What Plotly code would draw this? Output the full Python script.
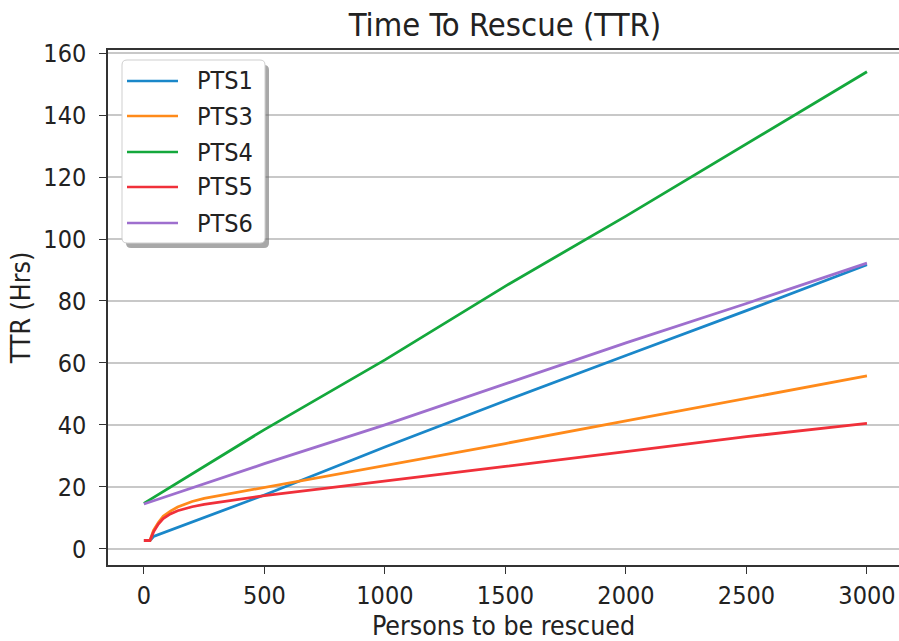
import plotly.graph_objects as go

# ---- data ----
x_pts1 = [0, 25, 40, 500, 1000, 1500, 2000, 2500, 3000]
y_pts1 = [2.7, 2.7, 4.0, 17.4, 32.9, 47.8, 62.4, 76.9, 91.7]

x_pts3 = [0, 25, 40, 60, 80, 110, 140, 170, 200, 250, 300, 400, 500, 750, 1000, 1500, 2000, 2500, 3000]
y_pts3 = [2.7, 2.7, 6.0, 8.5, 10.5, 12.2, 13.5, 14.5, 15.3, 16.3, 17.0, 18.6, 20.0, 23.3, 26.8, 34.0, 41.3, 48.6, 55.8]

x_pts4 = [0, 500, 1000, 1500, 2000, 2500, 3000]
y_pts4 = [14.7, 38.5, 61.0, 84.8, 107.4, 130.6, 154.0]

x_pts5 = [0, 25, 40, 60, 80, 110, 140, 170, 200, 250, 300, 400, 500, 750, 1000, 1500, 2000, 2500, 3000]
y_pts5 = [2.7, 2.7, 5.5, 8.0, 9.8, 11.3, 12.3, 13.0, 13.6, 14.4, 15.0, 16.2, 17.2, 19.5, 21.8, 26.6, 31.4, 36.2, 40.5]

x_pts6 = [0, 500, 1000, 1500, 2000, 2500, 3000]
y_pts6 = [14.5, 27.5, 40.0, 53.3, 66.5, 79.2, 92.2]

names = ["PTS1", "PTS3", "PTS4", "PTS5", "PTS6"]
colors = ["#1a87c9", "#ff8a1a", "#14a83c", "#f0303a", "#9e6fce"]
series = [(x_pts1, y_pts1), (x_pts3, y_pts3), (x_pts4, y_pts4), (x_pts5, y_pts5), (x_pts6, y_pts6)]

x_ticks = [0, 500, 1000, 1500, 2000, 2500, 3000]
y_ticks = [0, 20, 40, 60, 80, 100, 120, 140, 160]

FONT = "DejaVu Sans Condensed, DejaVu Sans, sans-serif"
TXT = "#222"

W, H = 899, 641
L, R, T, B = 108, 0, 50, 76
PW, PH = W - L - R, H - T - B


def px_x(p):
    return (p - L) / PW


def px_y(p):
    return (H - B - p) / PH


def rounded_rect(x0, y0, x1, y1, r):
    # pixel coords (y down) -> paper path with rounded corners
    X = lambda p: px_x(p)
    Y = lambda p: px_y(p)
    return (f"M {X(x0 + r)},{Y(y0)} L {X(x1 - r)},{Y(y0)} Q {X(x1)},{Y(y0)} {X(x1)},{Y(y0 + r)} "
            f"L {X(x1)},{Y(y1 - r)} Q {X(x1)},{Y(y1)} {X(x1 - r)},{Y(y1)} "
            f"L {X(x0 + r)},{Y(y1)} Q {X(x0)},{Y(y1)} {X(x0)},{Y(y1 - r)} "
            f"L {X(x0)},{Y(y0 + r)} Q {X(x0)},{Y(y0)} {X(x0 + r)},{Y(y0)} Z")


fig = go.Figure()
for (xs, ys), n, c in zip(series, names, colors):
    fig.add_trace(go.Scatter(x=xs, y=ys, mode="lines", name=n,
                             line=dict(color=c, width=2.8), showlegend=False))

# ---- manual legend (box, shadow, samples, labels) ----
bx0, by0, bx1, by1 = 122, 60, 265, 243
shapes = [
    dict(type="path", xref="paper", yref="paper", path=rounded_rect(bx0 + 4, by0 + 5, bx1 + 4, by1 + 5, 5),
         fillcolor="rgba(110,110,110,0.6)", line=dict(width=0), layer="above"),
    dict(type="path", xref="paper", yref="paper", path=rounded_rect(bx0, by0, bx1, by1, 5),
         fillcolor="white", line=dict(color="#cfcfcf", width=1), layer="above"),
]
annotations = []
row_y = [81, 116, 152, 187, 223]
for ry, n, c in zip(row_y, names, colors):
    shapes.append(dict(type="line", xref="paper", yref="paper",
                       x0=px_x(127), x1=px_x(178), y0=px_y(ry), y1=px_y(ry),
                       line=dict(color=c, width=2.6), layer="above"))
    annotations.append(dict(text=n, xref="paper", yref="paper", x=px_x(195), y=px_y(ry),
                            xanchor="left", yanchor="middle", showarrow=False,
                            font=dict(family=FONT, size=25, color=TXT)))

fig.update_layout(
    width=W, height=H,
    margin=dict(l=L, r=R, t=T, b=B, autoexpand=False),
    paper_bgcolor="white", plot_bgcolor="white",
    font=dict(family=FONT, size=25, color=TXT),
    title=dict(text="Time To Rescue (TTR)", x=505 / W, xref="container", xanchor="center",
               y=1 - 25 / H, yref="container", yanchor="middle", automargin=False,
               font=dict(family=FONT, size=32.5, color=TXT)),
    showlegend=False,
    hovermode=False,
    shapes=shapes,
    annotations=annotations,
    xaxis=dict(range=[-149, 3133], tickvals=x_ticks, ticktext=[str(v) for v in x_ticks],
               automargin=False,
               showgrid=False, zeroline=False,
               showline=True, linecolor="#333", linewidth=1.5, mirror=True,
               ticks="outside", ticklen=7, tickcolor="#333", ticklabelstandoff=0,
               tickfont=dict(family=FONT, size=25, color=TXT),
               title=dict(text="Persons to be rescued", standoff=10,
                          font=dict(family=FONT, size=26.5, color=TXT))),
    yaxis=dict(range=[-5.2, 161.0], tickvals=y_ticks, ticktext=[str(v) for v in y_ticks],
               automargin=False,
               showgrid=True, gridcolor="#c8c8c8", gridwidth=1.5, zeroline=False,
               showline=True, linecolor="#333", linewidth=1.5, mirror=False,
               ticks="outside", ticklen=7, tickcolor="#333", ticklabelstandoff=8,
               tickfont=dict(family=FONT, size=25, color=TXT),
               title=dict(text="TTR (Hrs)", standoff=5,
                          font=dict(family=FONT, size=26.5, color=TXT))),
)

fig.write_html("out.html", config={"displayModeBar": False},
               post_script="document.body.style.margin='0';document.body.style.overflow='hidden';")
